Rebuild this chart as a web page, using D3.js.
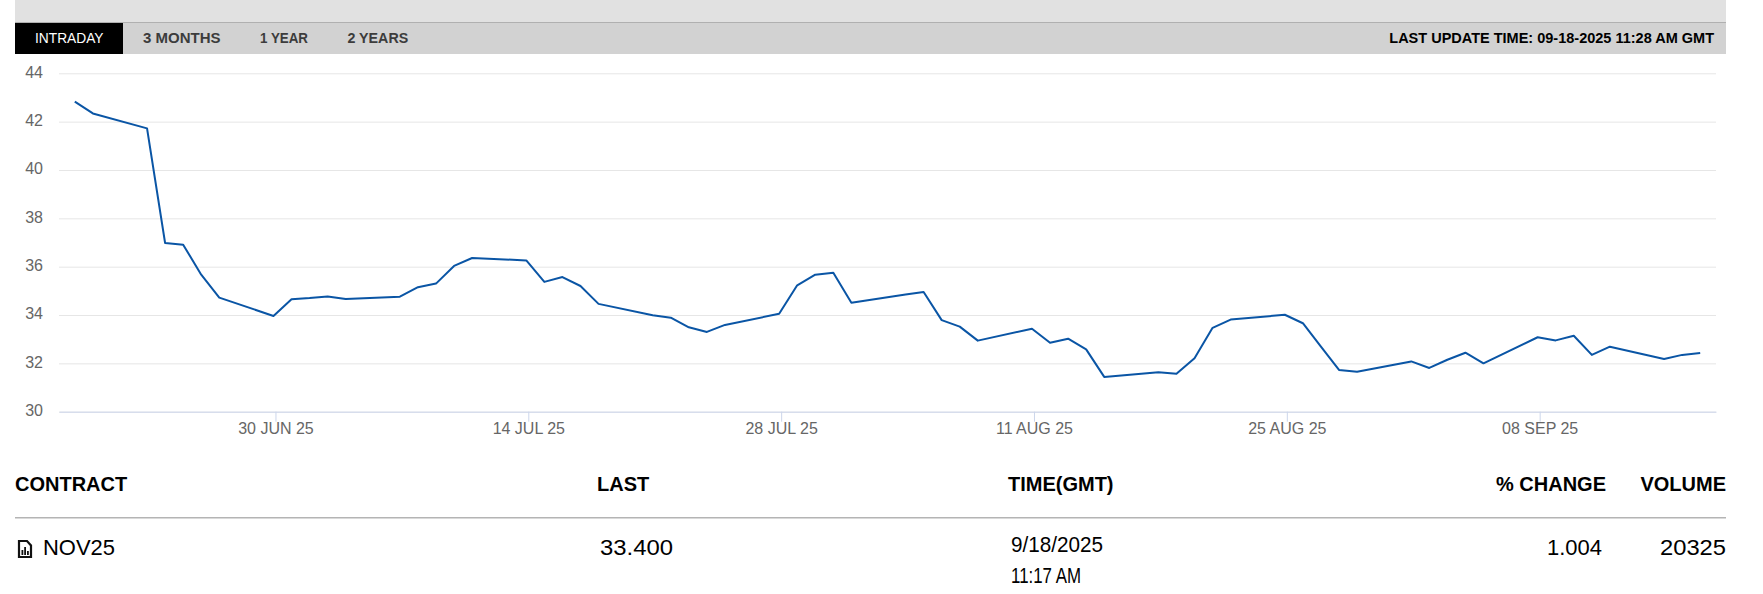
<!DOCTYPE html>
<html lang="en">
<head>
<meta charset="UTF-8">
<title>NOV25 intraday</title>
<script src="https://d3js.org/d3.v7.min.js"></script>
<style>
    html, body { margin: 0; padding: 0; background: #fff; overflow: hidden; }
    svg { display: block; font-family: "Liberation Sans Narrow", "Liberation Sans", sans-serif; }
</style>
</head>
<body>
<div id="chart"></div>
<script>
const dates = ["2025-06-19","2025-06-20","2025-06-23","2025-06-24","2025-06-25","2025-06-26","2025-06-27",
    "2025-06-30","2025-07-01","2025-07-02","2025-07-03","2025-07-04",
    "2025-07-07","2025-07-08","2025-07-09","2025-07-10","2025-07-11",
    "2025-07-14","2025-07-15","2025-07-16","2025-07-17","2025-07-18",
    "2025-07-21","2025-07-22","2025-07-23","2025-07-24","2025-07-25",
    "2025-07-28","2025-07-29","2025-07-30","2025-07-31","2025-08-01",
    "2025-08-04","2025-08-05","2025-08-06","2025-08-07","2025-08-08",
    "2025-08-11","2025-08-12","2025-08-13","2025-08-14","2025-08-15",
    "2025-08-18","2025-08-19","2025-08-20","2025-08-21","2025-08-22",
    "2025-08-25","2025-08-26","2025-08-27","2025-08-28","2025-08-29",
    "2025-09-01","2025-09-02","2025-09-03","2025-09-04","2025-09-05",
    "2025-09-08","2025-09-09","2025-09-10","2025-09-11","2025-09-12",
    "2025-09-15","2025-09-16","2025-09-17"];
const prices = [42.83,42.34,41.72,36.98,36.91,35.67,34.72,
    33.96,34.65,34.70,34.77,34.66,
    34.76,35.15,35.30,36.03,36.36,
    36.26,35.37,35.57,35.20,34.46,
    33.99,33.89,33.49,33.30,33.59,
    34.05,35.23,35.67,35.75,34.51,
    34.85,34.95,33.79,33.52,32.94,
    33.43,32.85,33.02,32.58,31.44,
    31.63,31.57,32.21,33.47,33.81,
    34.01,33.66,32.69,31.73,31.65,
    32.08,31.81,32.15,32.44,32.00,
    33.08,32.95,33.14,32.35,32.69,
    32.18,32.35,32.43];
const yTicks = [30,32,34,36,38,40,42,44];
const xTickDates = ["2025-06-30","2025-07-14","2025-07-28","2025-08-11","2025-08-25","2025-09-08"];
const tabs = ["INTRADAY","3 MONTHS","1 YEAR","2 YEARS"];
const updateText = "LAST UPDATE TIME: 09-18-2025 11:28 AM GMT";
const tableHeads = ["CONTRACT","LAST","TIME(GMT)","% CHANGE","VOLUME"];

const w = 1763, h = 594;
const plotLeft = 59, plotRight = 1716, plotTop = 73.3, plotBottom = 411.7;
const parseDay = d3.utcParse("%Y-%m-%d");
const fmtTick = d3.utcFormat("%d %b %y");

const svg = d3.select("#chart").append("svg").attr("width", w).attr("height", h);

// header strip
svg.append("rect").attr("x", 15).attr("y", 0).attr("width", 1711).attr("height", 22).attr("fill", "#e1e1e1");
svg.append("rect").attr("x", 15).attr("y", 22).attr("width", 1711).attr("height", 1).attr("fill", "#b0b0b0");
svg.append("rect").attr("x", 15).attr("y", 23).attr("width", 1711).attr("height", 31).attr("fill", "#d2d2d2");
svg.append("rect").attr("x", 15).attr("y", 23).attr("width", 108).attr("height", 31).attr("fill", "#000");

const tabX = [35, 143, 260, 347.5];
const tabW = [68.5, 77.5, 48, 60.7];
svg.selectAll(".tab").data(tabs).enter().append("text")
    .attr("class", "tab")
    .attr("x", (d, i) => tabX[i])
    .attr("y", 43)
    .attr("font-size", 14.5)
    .attr("font-weight", (d, i) => i == 0 ? 400 : 700)
    .attr("fill", (d, i) => i == 0 ? "#fff" : "#3c3c3c")
    .attr("textLength", (d, i) => tabW[i])
    .attr("lengthAdjust", "spacingAndGlyphs")
    .text(d => d);
svg.append("text").attr("x", 1714).attr("y", 43).attr("text-anchor", "end")
    .attr("font-size", 14.5).attr("font-weight", 700).attr("fill", "#000").text(updateText);

// chart
const x = d3.scaleUtc()
    .domain([new Date(Date.UTC(2025, 5, 18, 3)), new Date(Date.UTC(2025, 8, 17, 21))])
    .range([plotLeft, plotRight]);
const y = d3.scaleLinear().domain([30, 44]).range([plotBottom, plotTop]);

const yAxis = d3.axisLeft(y).tickValues(yTicks).tickSize(0).tickPadding(0);
svg.append("g").attr("transform", "translate(" + plotLeft + ",0)").call(yAxis)
    .call(g => g.select(".domain").remove())
    .call(g => g.selectAll(".tick line").attr("stroke", "#e6e6e6").attr("stroke-width", 1).attr("x1", 0).attr("x2", plotRight - plotLeft))
    .call(g => g.selectAll(".tick text").attr("x", -16).attr("dy", "0.24em")
        .attr("fill", "#666").attr("font-size", 16).attr("font-family", "inherit"));

// ticks sit a little after the daily points in the original
const tickShift = 2.66 * 3600 * 1000;
const xAxis = d3.axisBottom(x)
    .tickValues(xTickDates.map(d => new Date(+parseDay(d) + tickShift)))
    .tickFormat(d => fmtTick(d).toUpperCase())
    .tickSize(10).tickSizeOuter(0).tickPadding(1);
svg.append("g").attr("transform", "translate(0," + plotBottom + ")").call(xAxis)
    .call(g => g.select(".domain").attr("stroke", "#ccd6eb").attr("stroke-width", 1))
    .call(g => g.selectAll(".tick line").attr("stroke", "#ccd6eb"))
    .call(g => g.selectAll(".tick text").attr("fill", "#666").attr("font-size", 16).attr("font-family", "inherit"));

const line = d3.line().x((d, i) => x(parseDay(dates[i]))).y(d => y(d));
svg.append("path").datum(prices)
    .attr("d", line)
    .attr("fill", "none")
    .attr("stroke", "#0a55a5")
    .attr("stroke-width", 2)
    .attr("stroke-linejoin", "round");

// table
const headX = [15, 597, 1008, 1606, 1726];
const headAnchor = ["start", "start", "start", "end", "end"];
svg.selectAll(".head").data(tableHeads).enter().append("text")
    .attr("class", "head")
    .attr("x", (d, i) => headX[i])
    .attr("y", 491)
    .attr("text-anchor", (d, i) => headAnchor[i])
    .attr("font-size", 20)
    .attr("font-weight", 700)
    .attr("fill", "#000")
    .text(d => d);
svg.append("rect").attr("x", 15).attr("y", 517).attr("width", 1711).attr("height", 1.5).attr("fill", "#b4b4b4");

function cell(t, px, py, len, anchor) {
    svg.append("text").attr("x", px).attr("y", py).attr("text-anchor", anchor || "start")
        .attr("font-size", 22).attr("fill", "#000")
        .attr("textLength", len).attr("lengthAdjust", "spacingAndGlyphs").text(t);
}
cell("NOV25", 43, 555, 72);
cell("33.400", 600, 555, 73);
cell("9/18/2025", 1011, 552, 92);
cell("11:17 AM", 1011, 583, 70);
cell("1.004", 1602, 555, 55, "end");
cell("20325", 1726, 555, 66, "end");

// contract icon
const icon = svg.append("g").attr("transform", "translate(19,541)");
icon.append("path").attr("d", "M0 0H8L12 4.5V16H0Z").attr("fill", "none").attr("stroke", "#111").attr("stroke-width", 2.2);
[[2.5, 9, 5], [5.2, 6, 8], [8, 10, 4]].forEach(b => {
    icon.append("rect").attr("x", b[0]).attr("y", b[1]).attr("width", 1.8).attr("height", b[2]).attr("fill", "#111");
});
</script>
</body>
</html>
